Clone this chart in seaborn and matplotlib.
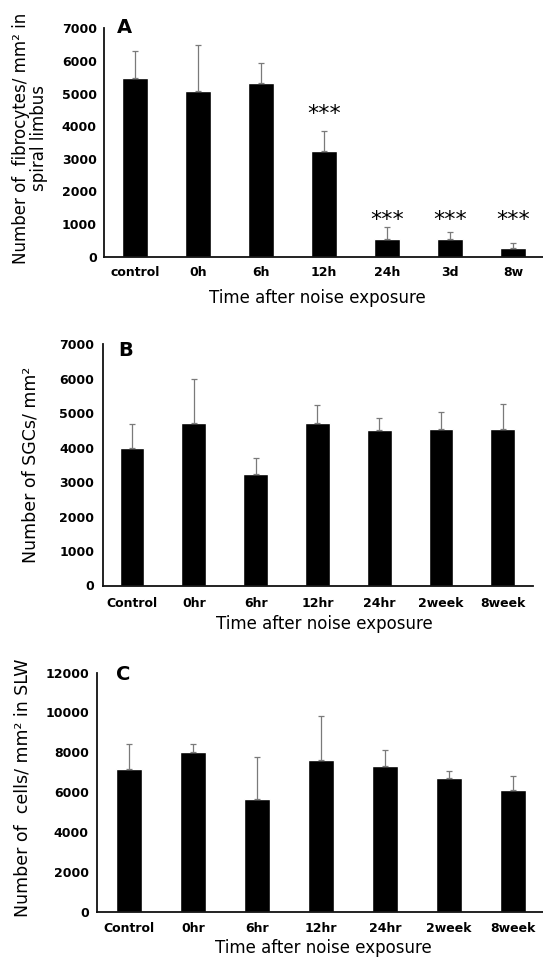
import numpy as np
import pandas as pd
import matplotlib
matplotlib.use("Agg")
import matplotlib.pyplot as plt
import seaborn as sns

# ---------------- data ----------------
cats_a = ["control", "0h", "6h", "12h", "24h", "3d", "8w"]
mean_a = [5490, 5065, 5320, 3250, 540, 540, 255]
sd_a = [815, 1425, 610, 590, 375, 225, 175]
sig_a = ["", "", "", "***", "***", "***", "***"]
sig_y_a = [0, 0, 0, 4180, 940, 940, 940]

cats_b = ["Control", "0hr", "6hr", "12hr", "24hr", "2week", "8week"]
mean_b = [3995, 4705, 3240, 4705, 4510, 4550, 4540]
sd_b = [690, 1290, 460, 540, 340, 480, 740]

cats_c = ["Control", "0hr", "6hr", "12hr", "24hr", "2week", "8week"]
mean_c = [7145, 8015, 5640, 7615, 7295, 6710, 6125]
sd_c = [1275, 400, 2110, 2225, 820, 350, 700]

yticks_a = [0, 1000, 2000, 3000, 4000, 5000, 6000, 7000]
yticks_b = [0, 1000, 2000, 3000, 4000, 5000, 6000, 7000]
yticks_c = [0, 2000, 4000, 6000, 8000, 10000, 12000]

xlabel = "Time after noise exposure"
ylabel_a = "Number of  fibrocytes/ mm\u00b2 in\nspiral limbus"
ylabel_b = "Number of SGCs/ mm\u00b2"
ylabel_c = "Number of  cells/ mm\u00b2 in SLW"

# ---------------- style ----------------
sns.set_style("white")
plt.rcParams["font.family"] = ["DejaVu Sans"]
plt.rcParams["text.color"] = "black"
plt.rcParams["axes.labelcolor"] = "black"
plt.rcParams["xtick.color"] = "black"
plt.rcParams["ytick.color"] = "black"

W, H = 543, 959
fig = plt.figure(figsize=(W / 100, H / 100), dpi=100)


def rect(l, r, t, b):
    return [l / W, 1 - b / H, (r - l) / W, (b - t) / H]


def panel(box, xlim, cats, mean, sd, yticks, ylab, ylab_xy, ylab_size,
          ylab_ls, xlab_xy, letter, letter_xy, xpad, ypad):
    ax = fig.add_axes(rect(*box))
    df = pd.DataFrame({"cat": cats, "val": mean})
    sns.barplot(data=df, x="cat", y="val", color="black", saturation=1,
                width=0.4, errorbar=None, ax=ax, zorder=2)
    x = np.arange(len(cats))
    ax.errorbar(x, mean, yerr=[np.zeros(len(cats)), sd], fmt="none",
                ecolor="#7a7a7a", elinewidth=0.9, capsize=2, capthick=0.9,
                zorder=3)
    ax.set_xlim(*xlim)
    ax.set_ylim(yticks[0], yticks[-1])
    ax.set_yticks(yticks, labels=[str(v) for v in yticks],
                  fontweight="bold", fontsize=9, color="black")
    ax.set_xticks(x, labels=cats, fontweight="bold", fontsize=9,
                  color="black")
    ax.tick_params(axis="y", direction="in", length=3, width=1, pad=ypad,
                   colors="black")
    ax.tick_params(axis="x", length=0, pad=xpad, colors="black")
    for s in ["top", "right"]:
        ax.spines[s].set_visible(False)
    for s in ["left", "bottom"]:
        ax.spines[s].set_color("#111111")
        ax.spines[s].set_linewidth(1.3)
    ax.set_xlabel(xlabel, fontsize=12, color="black")
    ax.xaxis.set_label_coords(*xlab_xy)
    ax.set_ylabel(ylab, fontsize=ylab_size, linespacing=ylab_ls,
                  color="black")
    ax.yaxis.label.set_va("center")
    ax.yaxis.set_label_coords(*ylab_xy)
    fig.text(letter_xy[0] / W, 1 - letter_xy[1] / H, letter,
             fontsize=14, fontweight="bold", va="baseline", ha="left",
             color="black")
    return ax


# Panel A
ax_a = panel((104, 543, 28.3, 256.6), (-0.492, 6.476), cats_a, mean_a, sd_a,
             yticks_a, ylabel_a, (-0.168, 0.52), 12, 1.0, (0.487, -0.142),
             "A", (117, 33), 7, 5.3)
for i, (s, yv) in enumerate(zip(sig_a, sig_y_a)):
    if s:
        ax_a.text(i, yv, s, ha="center", va="baseline", fontsize=16,
                  color="black")

# Panel B
panel((102.7, 533, 344.3, 585.5), (-0.474, 6.49), cats_b, mean_b, sd_b,
      yticks_b, ylabel_b, (-0.167, 0.50), 12.5, 1.2, (0.515, -0.122),
      "B", (118, 356), 8, 6)

# Panel C
panel((96.5, 543, 672.5, 912), (-0.51, 6.47), cats_c, mean_c, sd_c,
      yticks_c, ylabel_c, (-0.166, 0.518), 12.5, 1.2, (0.507, -0.114),
      "C", (116, 680), 7, 5.5)

fig.savefig("out.png", dpi=100)
